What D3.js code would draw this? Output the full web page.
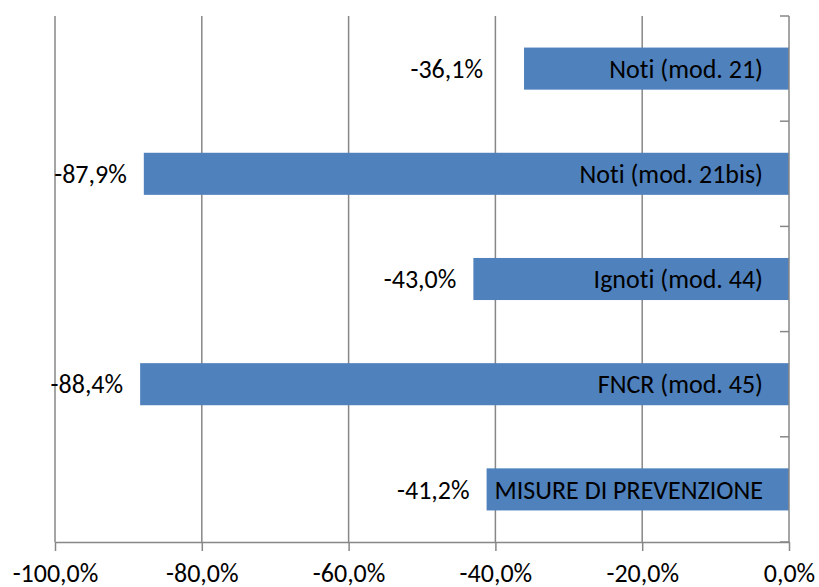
<!DOCTYPE html>
<html>
<head>
<meta charset="utf-8">
<script src="https://cdn.jsdelivr.net/npm/d3@7"></script>
<style>
  html, body { margin: 0; padding: 0; background: #fff; }
  svg { display: block; }
  text {
    font-family: Carlito, Calibri, "Open Sans", sans-serif; fill: #000;
    font-variant-ligatures: none; font-feature-settings: "liga" 0, "clig" 0, "dlig" 0;
  }
</style>
</head>
<body>
<svg id="chart" width="819" height="587"></svg>
<script>
// Variation by register type
const categories = ["Noti (mod. 21)", "Noti (mod. 21bis)", "Ignoti (mod. 44)", "FNCR (mod. 45)", "MISURE DI PREVENZIONE"];
const values = [-36.1, -87.9, -43.0, -88.4, -41.2];
const xTicks = [-100, -80, -60, -40, -20, 0];

const plot = { left: 55, right: 789, top: 16, bottom: 542 };
const gridColor = "#878787";
const barColor = "#4F81BD";
const fontSize = "26px";

const it = d3.formatLocale({ decimal: ",", thousands: ".", grouping: [3], currency: ["", " €"], minus: "-" });
const pct = v => it.format(".1f")(v) + "%";

const svg = d3.select("#chart");

const x = d3.scaleLinear().domain([-100, 0]).range([plot.left, plot.right]);
const y = d3.scaleBand().domain(categories).range([plot.top, plot.bottom])
  .paddingInner(0.6).paddingOuter(0.3);

// vertical gridlines
svg.append("g").selectAll("line").data(xTicks.filter(d => d !== 0)).join("line")
  .attr("x1", d => x(d)).attr("x2", d => x(d))
  .attr("y1", plot.top).attr("y2", plot.bottom)
  .attr("stroke", gridColor).attr("stroke-width", 1.5);

// bars
svg.append("g").selectAll("rect").data(categories).join("rect")
  .attr("x", (c, i) => x(values[i]))
  .attr("width", (c, i) => x(0) - x(values[i]))
  .attr("y", c => y(c))
  .attr("height", y.bandwidth())
  .attr("fill", barColor);

// category axis on the zero line, ticks between bands pointing inward
const boundaries = d3.range(categories.length + 1).map(i => plot.top + i * y.step());
svg.append("line")
  .attr("x1", x(0)).attr("x2", x(0)).attr("y1", plot.top).attr("y2", plot.bottom)
  .attr("stroke", gridColor).attr("stroke-width", 1.5);
svg.append("g").selectAll("line").data(boundaries).join("line")
  .attr("x1", x(0) - 9).attr("x2", x(0))
  .attr("y1", d => d).attr("y2", d => d)
  .attr("stroke", gridColor).attr("stroke-width", 1.5);

// value axis
const xAxis = d3.axisBottom(x).tickValues(xTicks).tickSize(9).tickSizeOuter(0).tickFormat(pct);
const gx = svg.append("g").attr("transform", `translate(0,${plot.bottom})`).call(xAxis);
gx.select(".domain").attr("stroke", gridColor).attr("stroke-width", 1.5);
gx.selectAll(".tick line").attr("stroke", gridColor).attr("stroke-width", 1.5);
gx.selectAll(".tick text").attr("y", 40).attr("dy", null)
  .style("font-size", fontSize).style("font-family", null).attr("fill", "#000");

// category names inside the bars
svg.append("g").selectAll("text").data(categories).join("text")
  .attr("x", x(0) - 26)
  .attr("y", c => y(c) + y.bandwidth() / 2)
  .attr("dy", "0.35em")
  .attr("text-anchor", "end")
  .style("font-size", fontSize)
  .text(c => c);

// value labels beside the bar ends
const labelGap = { "Noti (mod. 21)": 41 };
svg.append("g").selectAll("text").data(categories).join("text")
  .attr("x", (c, i) => x(values[i]) - (labelGap[c] || 17))
  .attr("y", c => y(c) + y.bandwidth() / 2)
  .attr("dy", "0.35em")
  .attr("text-anchor", "end")
  .style("font-size", fontSize)
  .text((c, i) => pct(values[i]));
</script>
</body>
</html>
